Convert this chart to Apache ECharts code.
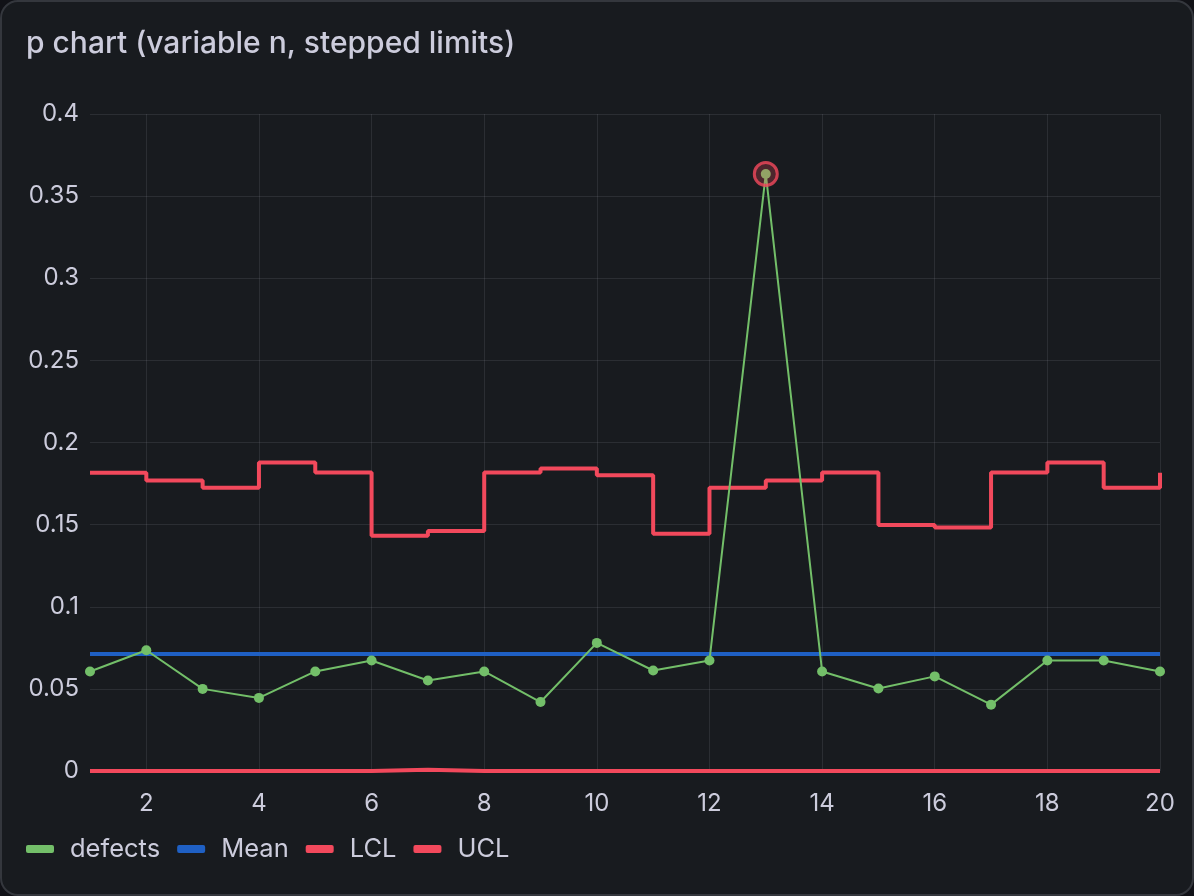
<!DOCTYPE html>
<html>
<head>
<meta charset="utf-8">
<script src="https://cdn.jsdelivr.net/npm/echarts@6/dist/echarts.min.js"></script>
<style>
  html, body { margin: 0; padding: 0; background: #111217; }
  #panel { position: absolute; left: 0; top: 0; width: 1194px; height: 896px; box-sizing: border-box;
           border: 2px solid #34373d; border-radius: 18px; background: #181b1f; }
  #chart { position: absolute; left: 0; top: 0; width: 1194px; height: 896px; }
</style>
</head>
<body>
<div id="panel"></div>
<div id="chart"></div>
<script>
const samples = [1,2,3,4,5,6,7,8,9,10,11,12,13,14,15,16,17,18,19,20];
const defectRate = [0.0606,0.0735,0.0500,0.0445,0.0606,0.0673,0.0551,0.0606,0.0420,0.0780,
                    0.0612,0.0673,0.3635,0.0606,0.0502,0.0576,0.0404,0.0673,0.0673,0.0606];
const ucl = [0.1816,0.1769,0.1724,0.1878,0.1818,0.1433,0.1461,0.1818,0.1841,0.1800,
             0.1445,0.1724,0.1769,0.1818,0.1498,0.1482,0.1818,0.1878,0.1724,0.1816];
const lcl = [0,0,0,0,0,0.0008,0,0,0,0,0,0,0,0,0,0,0,0,0,0];
const meanValue = 0.0712;
const outlierIndex = [12];
const xTicks = [2,4,6,8,10,12,14,16,18,20];

const txt = '#ccccdc';
const font = 'Inter, "Noto Sans", sans-serif';
const chart = echarts.init(document.getElementById('chart'), null, { renderer: 'canvas' });
chart.setOption({
  backgroundColor: 'transparent',
  animation: false,
  title: { text: 'p chart (variable n, stepped limits)', left: 21, top: 24,
           textStyle: { color: txt, fontSize: 30, fontWeight: 500, fontFamily: font } },
  legend: { left: 21, bottom: 29, icon: 'roundRect', itemWidth: 28, itemHeight: 8, itemGap: 17,
            data: ['defects','Mean','LCL','UCL'],
            textStyle: { color: txt, fontSize: 25.5, fontFamily: font, padding: [0, 0, 0, 11] } },
  grid: { left: 90, right: 34, top: 114, bottom: 125, containLabel: false },
  xAxis: { type: 'value', min: 1, max: 20,
           axisLine: { show: false },
           axisTick: { show: false, customValues: xTicks },
           axisLabel: { customValues: xTicks, color: txt, fontSize: 24, fontFamily: font, margin: 21 },
           splitLine: { show: true, lineStyle: { color: 'rgba(204,204,220,0.11)', width: 1 } } },
  yAxis: { type: 'value', min: 0, max: 0.4, interval: 0.05,
           axisLine: { show: false }, axisTick: { show: false },
           axisLabel: { color: txt, fontSize: 24, fontFamily: font, margin: 11 },
           splitLine: { lineStyle: { color: 'rgba(204,204,220,0.11)', width: 1 } } },
  series: [
    { name: 'defects', type: 'line', data: samples.map((s,i)=>[s, defectRate[i]]),
      color: '#73bf69', symbol: 'circle', symbolSize: 10, showSymbol: true,
      lineStyle: { width: 2, color: '#73bf69' }, itemStyle: { color: '#73bf69' }, z: 3 },
    { name: 'Mean', type: 'line', data: [[samples[0], meanValue],[samples[samples.length-1], meanValue]],
      color: '#1f60c4', symbol: 'none', lineStyle: { width: 4, color: '#1f60c4' }, z: 2 },
    { name: 'LCL', type: 'line', step: 'end', data: samples.map((s,i)=>[s, lcl[i]]),
      color: '#f2495c', symbol: 'none', lineStyle: { width: 4, color: '#f2495c' }, z: 2 },
    { name: 'UCL', type: 'line', step: 'end', data: samples.map((s,i)=>[s, ucl[i]]),
      color: '#f2495c', symbol: 'none', lineStyle: { width: 4, color: '#f2495c' }, z: 2 },
    { name: 'outlier', type: 'scatter', data: outlierIndex.map(i=>[samples[i], defectRate[i]]),
      symbol: 'circle', symbolSize: 23, z: 5,
      itemStyle: { color: 'rgba(242,73,92,0.3)', borderColor: '#f2495c', borderWidth: 3 } }
  ]
});
</script>
</body>
</html>
